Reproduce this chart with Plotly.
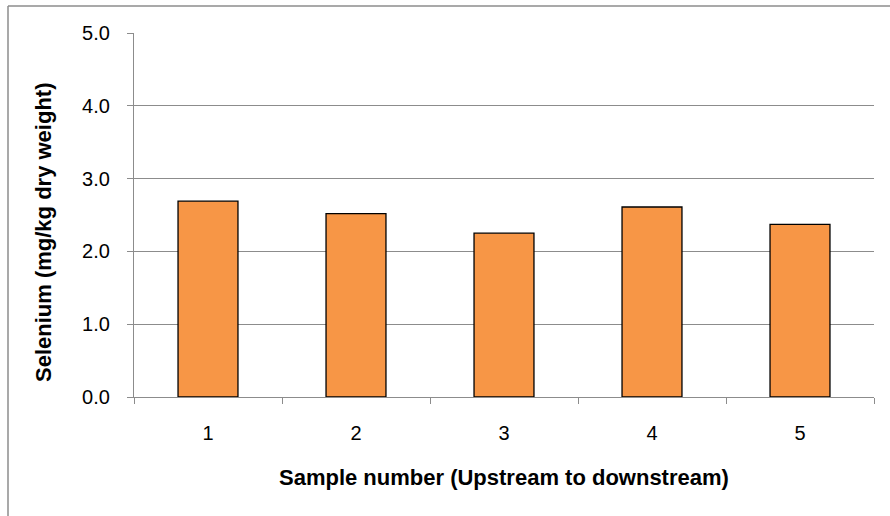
import plotly.graph_objects as go

categories = ["1", "2", "3", "4", "5"]
selenium = [2.69, 2.52, 2.25, 2.61, 2.37]
y_ticks = [0, 1, 2, 3, 4, 5]
y_tick_labels = ["0.0", "1.0", "2.0", "3.0", "4.0", "5.0"]
x_title = "Sample number (Upstream to downstream)"
y_title = "Selenium (mg/kg dry weight)"

W, H = 890, 516
L, R, T, B = 134, 16, 33, 119
pw, ph = W - L - R, H - T - B

fig = go.Figure(go.Bar(
    x=categories, y=selenium,
    marker=dict(color="#F79646", line=dict(color="#000000", width=1.3)),
    width=0.405,
))

font = "Liberation Sans, Arial, sans-serif"
fig.update_layout(
    width=W, height=H,
    margin=dict(l=L, r=R, t=T, b=B),
    plot_bgcolor="white", paper_bgcolor="white",
    showlegend=False,
    font=dict(family=font, size=20, color="#000000"),
    xaxis=dict(
        type="category", automargin=False,
        showline=True, linecolor="#8c8c8c", linewidth=1.3,
        ticks="outside", tickson="boundaries", ticklen=6, tickcolor="#8c8c8c", tickwidth=1.3,
        ticklabelstandoff=18,
        tickfont=dict(family=font, size=20, color="#000000"),
        showgrid=False,
    ),
    yaxis=dict(
        range=[0, 5], automargin=False,
        tickvals=y_ticks, ticktext=y_tick_labels,
        showline=True, linecolor="#8c8c8c", linewidth=1.3,
        ticks="outside", ticklen=6, tickcolor="#8c8c8c", tickwidth=1.3,
        ticklabelstandoff=13,
        tickfont=dict(family=font, size=20, color="#000000"),
        showgrid=True, gridcolor="#8c8c8c", gridwidth=1.3,
        zeroline=False,
    ),
)

# axis titles
fig.add_annotation(text="<b>%s</b>" % x_title, xref="paper", yref="paper",
                   x=(503.5 - L) / pw, y=-(477 - (H - B)) / ph,
                   xanchor="center", yanchor="middle", showarrow=False,
                   font=dict(size=22))
fig.add_annotation(text="<b>%s</b>" % y_title, xref="paper", yref="paper",
                   x=(43 - L) / pw, y=(H - B - 233) / ph, textangle=-90,
                   xanchor="center", yanchor="middle", showarrow=False,
                   font=dict(size=22))

# outer chart border (partially visible)
x0 = (8 - L) / pw
y1 = (H - B - 6) / ph
fig.add_shape(type="line", xref="paper", yref="paper", x0=x0, x1=x0, y0=-1, y1=y1,
              line=dict(color="#8c8c8c", width=1.5))
fig.add_shape(type="line", xref="paper", yref="paper", x0=x0, x1=2, y0=y1, y1=y1,
              line=dict(color="#8c8c8c", width=1.5))

fig.write_html("out.html", config={"displayModeBar": False},
               post_script="document.body.style.margin='0';")
